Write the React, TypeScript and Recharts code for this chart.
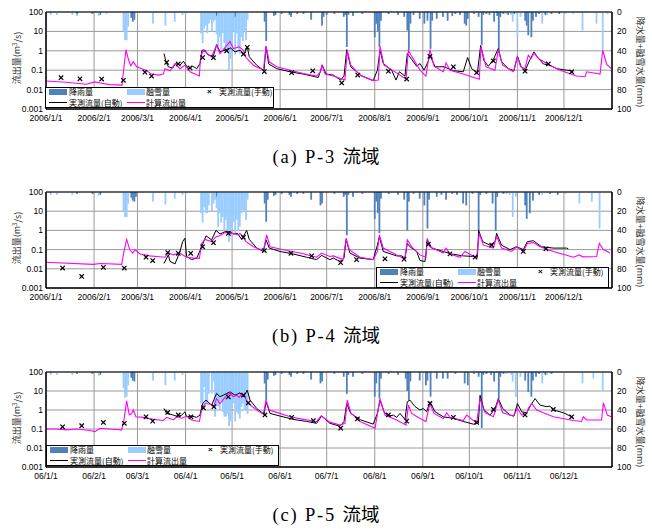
import React from 'react';
import { ComposedChart, Bar, Line, XAxis, YAxis, CartesianGrid, ReferenceLine } from 'recharts';

type Pair = [number, number];

// day-of-year (0 = 1 Jan) of each month start
const MONTH_DAYS = [0, 31, 59, 90, 120, 151, 181, 212, 243, 273, 304, 334];
const LABELS_LONG = ['2006/1/1', '2006/2/1', '2006/3/1', '2006/4/1', '2006/5/1', '2006/6/1', '2006/7/1', '2006/8/1', '2006/9/1', '2006/10/1', '2006/11/1', '2006/12/1'];
const LABELS_SHORT = ['06/1/1', '06/2/1', '06/3/1', '06/4/1', '06/5/1', '06/6/1', '06/7/1', '06/8/1', '06/9/1', '06/10/1', '06/11/1', '06/12/1'];
const FLOW_TICKS = [0.001, 0.01, 0.1, 1, 10, 100];
const RAIN_TICKS = [0, 20, 40, 60, 80, 100];

// ---- (a) P-3 ----
const rainA: Pair[] = [[3, 1], [20, 2], [30, 2], [35, 3], [55, 6], [56, 10], [57, 8], [110, 4], [122, 5], [141, 10], [142, 30], [147, 4], [148, 3], [152, 2], [157, 3], [158, 5], [162, 2], [166, 2], [171, 8], [178, 14], [179, 5], [181, 3], [186, 2], [192, 5], [193, 3], [194, 36], [195, 3], [198, 4], [204, 2], [212, 26], [213, 12], [214, 20], [215, 36], [216, 9], [221, 2], [227, 3], [231, 5], [233, 19], [234, 39], [235, 12], [237, 3], [241, 7], [244, 12], [246, 9], [248, 38], [249, 9], [252, 7], [256, 5], [259, 9], [262, 4], [264, 2], [267, 3], [270, 12], [271, 14], [272, 7], [276, 2], [279, 5], [281, 34], [282, 3], [284, 2], [286, 3], [289, 10], [291, 4], [292, 39], [293, 5], [295, 2], [298, 3], [302, 2], [309, 9], [310, 14], [311, 24], [313, 26], [314, 9], [316, 5], [318, 2], [322, 3], [326, 2], [331, 2]];
const snowA: Pair[] = [[3, 2], [7, 3], [17, 3], [20, 2], [34, 4], [39, 2], [50, 20], [51, 29], [52, 29], [53, 15], [69, 12], [77, 14], [83, 10], [88, 3], [90, 3], [100, 22], [101, 32], [102, 17], [103, 14], [104, 22], [105, 12], [106, 8], [107, 20], [108, 10], [109, 8], [110, 19], [111, 36], [112, 26], [113, 39], [114, 22], [115, 32], [116, 41], [117, 38], [118, 60], [119, 48], [120, 29], [121, 20], [122, 39], [123, 22], [124, 38], [125, 43], [126, 26], [127, 30], [128, 19], [129, 29], [130, 8], [297, 2], [300, 3], [301, 10], [304, 26], [306, 5], [320, 12], [323, 3], [335, 2], [340, 2], [346, 19], [355, 12], [359, 39], [362, 2]];
const calcA: Pair[] = [[0, 0.028], [13, 0.024], [26, 0.019], [31.6, 0.025], [35, 0.022], [41, 0.018], [49, 0.017], [50.3, 0.15], [51.6, 1.15], [53, 0.4], [54.6, 0.17], [56.3, 0.27], [58.5, 0.15], [61.7, 0.12], [65, 0.094], [68, 0.063], [72.4, 0.056], [75.7, 0.063], [76.7, 0.12], [80, 0.094], [83.2, 0.22], [86.4, 0.12], [89.6, 0.18], [92.9, 0.083], [98.9, 0.05], [99.7, 0.49], [101.5, 1.07], [103.6, 0.78], [106.8, 0.49], [110, 1.9], [112.2, 0.72], [114.8, 1.3], [118.7, 3.0], [120.8, 1.3], [124.7, 1.6], [127.3, 1.07], [129, 0.45], [133.7, 0.18], [140.2, 0.1], [141.9, 1.8], [144, 0.27], [148.8, 0.15], [157.4, 0.1], [166, 0.068], [174.5, 0.05], [177, 0.08], [178, 0.18], [180, 0.063], [185.3, 0.05], [192.8, 0.031], [194.3, 1.07], [196.5, 0.18], [202.5, 0.056], [211, 0.029], [214.3, 0.031], [215.4, 1.7], [218, 0.18], [226.1, 0.073], [232.2, 0.034], [233.7, 1.07], [235.8, 0.53], [241.2, 0.1], [245, 0.05], [247.6, 1.15], [250.2, 0.16], [256.2, 0.083], [258, 0.24], [260.5, 0.1], [269.1, 0.063], [279.4, 0.034], [280.5, 1.6], [283.8, 0.15], [289.5, 0.1], [291.7, 1.15], [294.5, 0.18], [301.4, 0.083], [304, 0.49], [306.1, 0.15], [308.9, 0.12], [311, 0.6], [312.8, 0.4], [314.7, 0.78], [317.5, 0.4], [325, 0.18], [331.5, 0.1], [342.2, 0.05], [347.6, 0.046], [348.7, 0.083], [357.3, 0.063], [359, 1.07], [361.6, 0.2], [364.5, 0.12]];
const autoA: Pair[] = [[76.1, 0.72], [77.4, 0.27], [78.9, 0.15], [81.7, 0.13], [83.6, 0.22], [86.4, 0.18], [88.6, 0.29], [91.8, 0.12], [94.6, 0.16], [97.2, 0.12], [99.3, 0.22], [100.6, 1.07], [102.5, 1.07], [104.7, 0.6], [107.9, 0.53], [110, 2.1], [112.2, 0.88], [116.5, 1.15], [119, 1.4], [121.9, 0.88], [125.1, 1.07], [127.7, 0.67], [129.8, 1.6], [131.1, 0.49], [135.9, 0.18], [140.6, 0.094], [141.9, 1.6], [143.6, 0.21], [148.8, 0.12], [157.4, 0.083], [166, 0.063], [173.5, 0.046], [175.6, 0.042], [178.2, 0.18], [180.6, 0.063], [185.3, 0.056], [190, 0.031], [192.2, 0.05], [193.9, 1.15], [196.5, 0.15], [203.6, 0.05], [211, 0.029], [213.7, 0.1], [215.4, 1.07], [217.5, 0.22], [222.9, 0.1], [225.7, 0.031], [227.9, 0.083], [231.5, 0.05], [233, 0.72], [235.8, 0.36], [239, 0.16], [241.2, 0.22], [243.8, 0.1], [246.6, 0.3], [247.6, 0.6], [250.9, 0.15], [256.7, 0.15], [262.7, 0.094], [269.1, 0.083], [271.9, 0.45], [274.5, 0.12], [278.2, 0.073], [280.3, 1.9], [282.5, 0.3], [285.3, 0.16], [288.5, 0.36], [291.7, 1.3], [293.8, 0.27], [298.2, 0.12], [301.8, 0.094], [304, 0.53], [306.3, 0.16], [308.9, 0.094], [311.7, 0.3], [314.7, 0.88], [316.8, 0.49], [320.7, 0.21], [325, 0.18], [329.3, 0.12], [335.8, 0.1], [340.1, 0.088]];
const manualA: Pair[] = [[9.7, 0.041], [21.9, 0.036], [35.9, 0.035], [49.9, 0.03], [63.8, 0.079], [68.1, 0.05], [77.8, 0.25], [85.3, 0.21], [92.9, 0.13], [101, 0.45], [108, 0.44], [116.5, 1.0], [127.3, 0.67], [129.8, 1.5], [140.8, 0.085], [158.4, 0.075], [172, 0.093], [190.7, 0.022], [201, 0.056], [220.8, 0.089], [232.6, 0.035], [247.6, 0.52], [262.7, 0.15], [277.7, 0.074], [288.5, 0.3], [308.9, 0.089], [323.9, 0.21], [339, 0.083]];

// ---- (b) P-4 ----
const rainB: Pair[] = [[3, 1], [20, 2], [30, 2], [35, 3], [55, 6], [56, 9], [57, 10], [58, 5], [110, 5], [141, 12], [142, 31], [143, 8], [147, 4], [148, 3], [152, 2], [157, 3], [158, 5], [162, 2], [166, 2], [171, 8], [177, 14], [178, 12], [186, 2], [192, 5], [193, 3], [194, 45], [195, 3], [198, 5], [204, 2], [212, 28], [213, 10], [214, 22], [215, 43], [216, 7], [221, 2], [227, 3], [231, 8], [233, 40], [234, 10], [237, 2], [241, 7], [244, 14], [246, 38], [247, 8], [252, 5], [255, 3], [258, 8], [262, 2], [265, 3], [269, 12], [271, 14], [275, 2], [279, 40], [280, 3], [284, 2], [288, 12], [290, 40], [291, 5], [295, 2], [309, 14], [310, 28], [312, 22], [314, 9], [318, 3], [325, 2], [330, 3]];
const snowB: Pair[] = [[3, 2], [7, 3], [17, 3], [34, 4], [50, 20], [51, 26], [52, 26], [53, 12], [69, 10], [77, 13], [83, 7], [88, 3], [100, 22], [101, 32], [102, 16], [103, 22], [104, 22], [105, 14], [107, 20], [108, 12], [109, 8], [110, 12], [111, 36], [112, 22], [113, 32], [114, 26], [115, 40], [116, 29], [117, 40], [118, 52], [119, 46], [120, 36], [121, 31], [122, 43], [123, 29], [124, 41], [125, 36], [126, 22], [127, 19], [128, 19], [129, 29], [130, 8], [297, 2], [299, 3], [301, 26], [303, 5], [320, 3], [335, 2], [344, 12], [352, 10], [357, 38]];
const calcB: Pair[] = [[0, 0.022], [30.5, 0.017], [35, 0.019], [48.8, 0.017], [50.3, 0.08], [52, 0.34], [54, 0.1], [55.9, 0.066], [57.4, 0.1], [60.6, 0.059], [67, 0.047], [71.4, 0.044], [76.7, 0.04], [78.9, 0.07], [82, 0.053], [86.4, 0.066], [90.7, 0.039], [98.9, 0.035], [100.4, 0.21], [102.5, 0.34], [106.8, 0.26], [109.6, 0.47], [112.2, 0.52], [115.4, 0.77], [118.7, 0.7], [120.8, 0.7], [124, 0.58], [125.1, 0.7], [129, 0.26], [133.7, 0.14], [140.2, 0.09], [142.3, 0.58], [144.5, 0.14], [155.2, 0.09], [163.8, 0.066], [174.5, 0.04], [177.8, 0.066], [183, 0.044], [185.3, 0.047], [191.7, 0.03], [193.5, 0.39], [195.6, 0.1], [202.5, 0.04], [211, 0.03], [213.7, 0.08], [215, 0.58], [217.5, 0.12], [226.1, 0.053], [231.5, 0.033], [233, 0.32], [235.8, 0.14], [241.2, 0.053], [245, 0.04], [245.9, 0.39], [247.6, 0.14], [256.2, 0.066], [258, 0.12], [260.5, 0.059], [267, 0.04], [270.2, 0.08], [277.7, 0.036], [279.4, 0.7], [282, 0.17], [288.5, 0.12], [290.6, 0.47], [293.8, 0.12], [300.3, 0.08], [303.5, 0.14], [307.8, 0.08], [310.4, 0.21], [314.3, 0.23], [318.6, 0.14], [327.2, 0.08], [340.1, 0.04], [344, 0.053], [346, 0.042], [355.1, 0.044], [356.8, 0.21], [359.4, 0.1], [363.7, 0.066]];
const autoB: Pair[] = [[76.1, 0.019], [78.9, 0.053], [80, 0.024], [83.2, 0.018], [86.4, 0.08], [88.1, 0.26], [89.6, 0.39], [90.7, 0.044], [93.9, 0.03], [97.2, 0.036], [100.4, 0.14], [103.2, 0.52], [106.8, 0.32], [109.6, 1.0], [112.2, 0.65], [115.4, 0.85], [118.7, 0.85], [120.8, 0.65], [123.4, 0.7], [126.2, 0.34], [129.4, 1.0], [131.1, 0.34], [135.9, 0.12], [140.2, 0.08], [141.9, 0.32], [144, 0.12], [150.9, 0.08], [159.5, 0.059], [168.1, 0.04], [174.5, 0.03], [177.8, 0.05], [183, 0.03], [185.3, 0.036], [189.6, 0.024], [192.2, 0.036], [193.5, 0.34], [196, 0.066], [202.5, 0.036], [211, 0.03], [213.7, 0.17], [215, 0.47], [217.5, 0.08], [226.1, 0.047], [229.4, 0.047], [231.5, 0.036], [233, 0.21], [234.7, 0.14], [239, 0.08], [241.2, 0.027], [244.4, 0.024], [245.9, 0.32], [248.7, 0.12], [256.2, 0.08], [261.6, 0.059], [269.1, 0.047], [275.6, 0.044], [278.2, 0.04], [279, 1.0], [281.6, 0.26], [286.3, 0.17], [289.6, 0.26], [290.6, 0.7], [293.8, 0.17], [299.2, 0.1], [303.5, 0.14], [307.8, 0.1], [310.4, 0.26], [314.3, 0.29], [319.6, 0.14], [327.2, 0.12], [335.8, 0.12], [336.8, 0.11]];
const manualB: Pair[] = [[10.7, 0.011], [23, 0.004], [37, 0.012], [50.5, 0.011], [64.5, 0.04], [68.8, 0.027], [78.5, 0.07], [85.3, 0.064], [93.3, 0.064], [101, 0.14], [108, 0.23], [117.6, 0.69], [127.3, 0.44], [140.8, 0.089], [158, 0.064], [171.3, 0.047], [190, 0.021], [200.3, 0.03], [218.6, 0.033], [230.9, 0.032], [246.6, 0.19], [260.5, 0.06], [276.7, 0.04], [287.4, 0.17], [307.8, 0.08], [322.4, 0.11]];

// ---- (c) P-5 ----
const rainC: Pair[] = [[3, 1], [20, 2], [30, 2], [35, 3], [55, 6], [56, 9], [57, 10], [141, 12], [142, 30], [143, 8], [147, 4], [148, 3], [152, 2], [157, 3], [158, 5], [162, 2], [166, 2], [171, 8], [177, 12], [178, 10], [186, 2], [192, 5], [194, 23], [195, 3], [198, 5], [204, 2], [212, 26], [213, 12], [215, 28], [216, 7], [221, 2], [227, 3], [232, 7], [233, 20], [234, 30], [235, 10], [241, 9], [245, 14], [246, 9], [248, 26], [252, 7], [256, 7], [259, 7], [264, 2], [270, 12], [272, 14], [276, 2], [279, 5], [281, 59], [282, 3], [284, 2], [287, 3], [289, 10], [292, 28], [293, 5], [295, 2], [309, 9], [311, 21], [313, 26], [314, 9], [316, 5], [318, 2], [322, 3], [326, 2]];
const snowC: Pair[] = [[3, 2], [7, 3], [17, 3], [34, 4], [50, 17], [51, 27], [52, 26], [53, 14], [69, 9], [77, 14], [83, 9], [88, 3], [100, 33], [101, 40], [102, 16], [103, 33], [104, 33], [105, 23], [107, 23], [108, 10], [109, 47], [110, 36], [111, 36], [112, 40], [113, 30], [114, 42], [115, 47], [116, 47], [117, 44], [118, 57], [119, 52], [120, 37], [121, 33], [122, 52], [123, 42], [124, 44], [125, 49], [126, 37], [127, 33], [128, 40], [129, 40], [130, 44], [297, 2], [300, 3], [301, 10], [303, 26], [306, 5], [320, 12], [323, 3], [346, 12], [353, 7], [359, 19]];
const calcC: Pair[] = [[0, 0.1], [6.9, 0.1], [13.3, 0.09], [19.8, 0.1], [28.4, 0.083], [31.6, 0.073], [34.8, 0.11], [41.3, 0.1], [48.8, 0.09], [50.3, 0.3], [52, 3.0], [53.7, 0.55], [55.2, 0.65], [56.3, 1.0], [58, 0.44], [62.8, 0.41], [69.2, 0.32], [75.7, 0.28], [77.8, 0.41], [82.1, 0.3], [84.3, 0.44], [87.5, 0.37], [90.7, 0.48], [93.9, 0.3], [98.9, 0.25], [100.4, 1.0], [102.5, 2.2], [105.8, 2.0], [107.9, 1.5], [110, 4.0], [112.2, 2.2], [115.4, 4.6], [118.7, 8.0], [120.8, 5.0], [122.9, 6.0], [124.7, 4.6], [126.2, 7.4], [128.3, 5.0], [129.8, 2.4], [135.9, 1.0], [140.2, 0.6], [141.9, 3.3], [144, 1.0], [148.8, 0.75], [157.4, 0.44], [166, 0.32], [174.5, 0.25], [177.5, 0.5], [183, 0.23], [189.6, 0.16], [192.8, 0.2], [194.3, 3.3], [196.5, 0.72], [202.5, 0.25], [212.2, 0.11], [215.4, 4.0], [218.6, 0.54], [226.1, 0.3], [232.2, 0.16], [233.7, 1.8], [235.8, 0.66], [241.2, 0.36], [245, 0.25], [247.6, 2.2], [250.2, 0.66], [256.2, 0.36], [258.4, 0.72], [260.5, 0.41], [269.1, 0.28], [271.3, 0.54], [277.7, 0.2], [279.9, 4.0], [283.1, 0.72], [288.5, 0.44], [291.7, 3.3], [294.5, 0.72], [301.4, 0.48], [304, 1.2], [306.8, 0.54], [310, 0.66], [311, 1.2], [313.2, 2.2], [316.4, 1.0], [327.2, 0.44], [340.1, 0.28], [345.4, 0.25], [346.5, 0.44], [348.7, 0.3], [358.3, 0.3], [359.4, 2.4], [362, 0.54], [364.5, 0.44]];
const autoC: Pair[] = [[76.1, 1.2], [77.8, 0.66], [80, 0.6], [82.1, 0.54], [85.3, 0.44], [87.5, 0.54], [89.6, 0.8], [90.7, 0.44], [93.9, 0.48], [97.2, 0.41], [99.3, 0.54], [101, 2.2], [103.2, 3.3], [106.8, 1.8], [110, 7.4], [112.2, 5.0], [116.5, 7.4], [118.7, 9.0], [121.9, 6.0], [125.1, 8.0], [127.3, 5.0], [129.8, 11], [131.6, 3.3], [135.9, 1.2], [140.6, 0.6], [141.9, 2.7], [144.5, 0.66], [150.9, 0.48], [159.5, 0.32], [168.1, 0.25], [174.5, 0.2], [177.8, 0.48], [183, 0.2], [189.6, 0.14], [192.2, 0.25], [193.9, 2.2], [196.5, 0.66], [203, 0.3], [211, 0.18], [213.7, 0.66], [215.4, 3.3], [218, 0.8], [220.8, 0.48], [224, 0.54], [226.1, 0.41], [228.3, 0.66], [231.5, 0.32], [233, 2.7], [234.7, 3.3], [238, 1.5], [241.2, 1.0], [243.3, 1.2], [245.5, 0.8], [247.6, 2.7], [250.9, 0.8], [256.2, 0.44], [262.7, 0.36], [269.1, 0.25], [275.6, 0.18], [278.8, 0.2], [279.9, 6.0], [282.5, 1.0], [286.3, 0.54], [289.6, 1.2], [291.7, 4.0], [294.5, 1.2], [299.2, 0.54], [301.8, 0.48], [304, 2.2], [306.8, 0.8], [310, 0.72], [312.6, 1.8], [315.4, 4.0], [318.6, 1.8], [322.9, 1.5], [325, 1.6], [327.2, 1.0], [333.6, 0.72], [339, 0.44]];
const manualC: Pair[] = [[10.7, 0.13], [23, 0.15], [37, 0.22], [50.5, 0.2], [64.5, 0.44], [68.8, 0.26], [78.5, 0.74], [85.3, 0.55], [93.5, 0.44], [101.5, 1.3], [108.3, 1.5], [117.6, 4.9], [127.3, 6.0], [130.5, 2.4], [141.2, 0.55], [158.4, 0.41], [172.4, 0.28], [190, 0.11], [200.8, 0.34], [220.8, 0.55], [232.6, 0.26], [247.6, 2.2], [262.7, 0.41], [277.7, 0.22], [288.5, 1.07], [308.9, 0.55], [327.2, 1.07], [339, 0.44]];

const RAIN_COLOR = '#4f81bd';
const SNOW_COLOR = '#99ccff';
const SANS = '"Liberation Sans", Arial, "Noto Sans CJK JP", sans-serif';
const CJK = '"Noto Sans CJK JP", sans-serif';
const SERIF = '"Liberation Serif", "Times New Roman", "Noto Sans CJK JP", serif';

// merge the sparse series into one table sorted by day
function buildRows(rain: Pair[], snow: Pair[], calc: Pair[], auto: Pair[], man: Pair[]) {
  const map = new Map<number, any>();
  const put = (list: Pair[], key: string) =>
    list.forEach(([d, v]) => {
      const row = map.get(d) ?? { d };
      row[key] = v;
      map.set(d, row);
    });
  put(rain, 'rain');
  put(snow, 'snow');
  put(calc, 'calc');
  put(auto, 'auto');
  put(man, 'man');
  return [...map.values()].sort((a, b) => a.d - b.d);
}

// the numeric axis gives a tiny band, so draw each daily bar at a fixed width round its centre
const DayBar = (p: any) => {
  const { x, y, width, height, fill } = p;
  if (x == null || y == null || !height) return <g />;
  const cx = x + (width || 0) / 2;
  const top = Math.min(y, y + height);
  return <rect x={cx - 0.9} y={top} width={1.8} height={Math.abs(height)} fill={fill} />;
};

const XMark = (p: any) => {
  const { cx, cy, payload, index } = p;
  if (payload?.man == null || cx == null || cy == null) return <g key={`m${index}`} />;
  const s = 2.2;
  return (
    <path
      key={`m${index}`}
      d={`M${cx - s},${cy - s}L${cx + s},${cy + s}M${cx + s},${cy - s}L${cx - s},${cy + s}`}
      stroke="#000"
      strokeWidth={1.2}
      fill="none"
    />
  );
};

interface PanelProps {
  top: number;
  plotH: number;
  rows: any[];
  labels: string[];
}

const Panel: React.FC<PanelProps> = ({ top, plotH, rows, labels }) => (
  <div style={{ position: 'absolute', left: 0, top }}>
    <ComposedChart width={652} height={12 + plotH + 20} data={rows} margin={{ top: 12, right: 0, bottom: 0, left: 0 }}>
      <CartesianGrid yAxisId="q" stroke="#9a9a9a" strokeWidth={1} />
      <XAxis
        dataKey="d"
        type="number"
        domain={[0, 365]}
        ticks={MONTH_DAYS}
        interval={0}
        allowDataOverflow
        height={20}
        tickLine={false}
        tickSize={3}
        tickMargin={3}
        axisLine={{ stroke: '#000', strokeWidth: 1.5 }}
        tick={{ fontSize: 8.5, fill: '#000', fontFamily: SANS }}
        tickFormatter={(v: number) => labels[MONTH_DAYS.indexOf(v)] ?? ''}
      />
      <YAxis
        yAxisId="q"
        scale="log"
        domain={[0.001, 100]}
        ticks={FLOW_TICKS}
        allowDataOverflow
        width={46}
        interval={0}
        tickLine={false}
        tickSize={1}
        tickMargin={2}
        axisLine={{ stroke: '#000', strokeWidth: 1.5 }}
        tick={{ fontSize: 8.5, fill: '#000', fontFamily: SANS }}
        tickFormatter={(v: number) => String(v)}
      />
      <YAxis
        yAxisId="p"
        orientation="right"
        domain={[0, 100]}
        reversed
        ticks={RAIN_TICKS}
        allowDataOverflow
        width={40}
        interval={0}
        tickLine={false}
        tickSize={2}
        tickMargin={3}
        axisLine={{ stroke: '#000', strokeWidth: 1.5 }}
        tick={{ fontSize: 8.5, fill: '#000', fontFamily: SANS, textAnchor: 'start' }}
      />
      <Bar yAxisId="p" dataKey="rain" stackId="s" fill={RAIN_COLOR} shape={DayBar} isAnimationActive={false} />
      <Bar yAxisId="p" dataKey="snow" stackId="s" fill={SNOW_COLOR} shape={DayBar} isAnimationActive={false} />
      <ReferenceLine yAxisId="p" y={0} stroke="#000" strokeWidth={1.2} />
      <Line yAxisId="q" dataKey="auto" type="linear" stroke="#000" strokeWidth={1} dot={false} activeDot={false} connectNulls isAnimationActive={false} />
      <Line yAxisId="q" dataKey="calc" type="linear" stroke="#ff00ff" strokeWidth={1.1} dot={false} activeDot={false} connectNulls isAnimationActive={false} />
      <Line yAxisId="q" dataKey="man" stroke="none" dot={XMark} activeDot={false} isAnimationActive={false} />
    </ComposedChart>
  </div>
);

// legend drawn as a bordered box inside the plot, two rows
const LegendBox: React.FC<{ left: number; top: number; width: number; height: number }> = ({ left, top, width, height }) => {
  const inner = height - 2;
  const txt: React.CSSProperties = { position: 'absolute', fontFamily: CJK, fontSize: 8, lineHeight: '8px', height: 8, whiteSpace: 'nowrap', color: '#000' };
  const r1 = 4;
  const r2 = inner - 4.3;
  return (
    <div style={{ position: 'absolute', left, top, width, height, border: '1px solid #000', background: '#fff', boxSizing: 'border-box' }}>
      <div style={{ position: 'absolute', left: 3, top: r1 - 3, width: 18, height: 6, background: RAIN_COLOR }} />
      <div style={{ ...txt, left: 23, top: r1 - 4 }}>降雨量</div>
      <div style={{ position: 'absolute', left: 81, top: r1 - 3, width: 18, height: 6, background: SNOW_COLOR }} />
      <div style={{ ...txt, left: 100, top: r1 - 4 }}>融雪量</div>
      <div style={{ ...txt, left: 161, top: r1 - 4, fontFamily: SANS, fontWeight: 'bold' }}>×</div>
      <div style={{ ...txt, left: 173, top: r1 - 4 }}>実測流量(手動)</div>
      <div style={{ position: 'absolute', left: 3, top: r2 - 0.6, width: 18, height: 1.3, background: '#000' }} />
      <div style={{ ...txt, left: 23, top: r2 - 4 }}>実測流量(自動)</div>
      <div style={{ position: 'absolute', left: 81, top: r2 - 0.6, width: 18, height: 1.3, background: '#ff00ff' }} />
      <div style={{ ...txt, left: 100, top: r2 - 4 }}>計算流出量</div>
    </div>
  );
};

const Caption: React.FC<{ y: number; latin: string; cjk: string }> = ({ y, latin, cjk }) => (
  <div
    style={{
      position: 'absolute',
      left: 0,
      width: 652,
      top: y - 11,
      height: 22,
      lineHeight: '22px',
      textAlign: 'center',
      fontFamily: SERIF,
      fontSize: 18.5,
      color: '#000',
      whiteSpace: 'pre',
    }}
  >
    <span style={{ letterSpacing: 1.8 }}>{latin}</span>
    <span>{cjk}</span>
  </div>
);

const AxisTitles: React.FC<{ leftY: number; rightY: number }> = ({ leftY, rightY }) => (
  <>
    <text transform={`translate(16.5,${leftY}) rotate(-90)`} textAnchor="middle" dominantBaseline="central" fontFamily={CJK} fontSize={9} fill="#333">
      流出量(m<tspan fontSize={6} dy={-3}>3</tspan>
      <tspan dy={3}>/s)</tspan>
    </text>
    <text transform={`translate(640,${rightY}) rotate(90)`} textAnchor="middle" dominantBaseline="central" fontFamily={CJK} fontSize={9} fill="#333">
      降水量+融雪水量(mm)
    </text>
  </>
);

const rowsA = buildRows(rainA, snowA, calcA, autoA, manualA);
const rowsB = buildRows(rainB, snowB, calcB, autoB, manualB);
const rowsC = buildRows(rainC, snowC, calcC, autoC, manualC);

export default function App() {
  return (
    <div style={{ position: 'absolute', left: 0, top: 0, width: 652, height: 529, background: '#fff', overflow: 'hidden' }}>
      <Panel top={0} plotH={97} rows={rowsA} labels={LABELS_LONG} />
      <Panel top={180} plotH={96} rows={rowsB} labels={LABELS_LONG} />
      <Panel top={360} plotH={95} rows={rowsC} labels={LABELS_SHORT} />

      <LegendBox left={45} top={87} width={229} height={21} />
      <LegendBox left={376} top={267} width={233} height={21} />
      <LegendBox left={46} top={445} width={233} height={21} />

      <svg width={652} height={529} style={{ position: 'absolute', left: 0, top: 0, pointerEvents: 'none' }}>
        <AxisTitles leftY={58} rightY={62} />
        <g transform="translate(0,180)">
          <AxisTitles leftY={58} rightY={62} />
        </g>
        <g transform="translate(0,360)">
          <AxisTitles leftY={58} rightY={62} />
        </g>
      </svg>

      <Caption y={157} latin="(a) P-3 " cjk="流域" />
      <Caption y={336} latin="(b) P-4 " cjk="流域" />
      <Caption y={515} latin="(c) P-5 " cjk="流域" />
    </div>
  );
}
